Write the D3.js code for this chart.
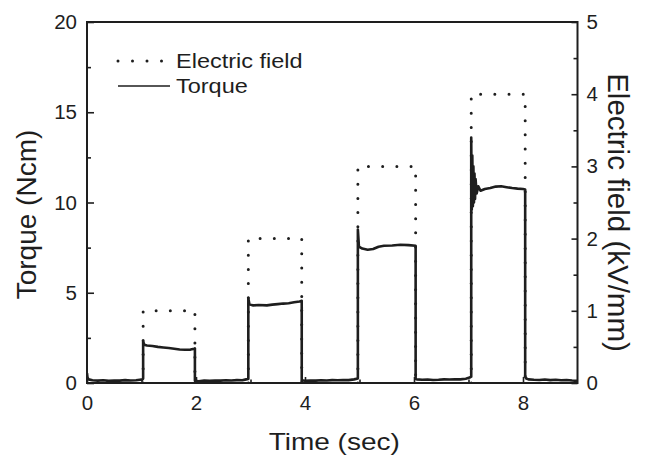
<!DOCTYPE html>
<html>
<head>
<meta charset="utf-8">
<script src="https://cdn.jsdelivr.net/npm/d3@7"></script>
<style>
  html, body { margin: 0; padding: 0; background: #fff; }
  svg { display: block; }
  text { font-family: "Liberation Sans", Arial, Helvetica, sans-serif; fill: #1e1e1e; }
</style>
</head>
<body>
<svg id="chart" width="645" height="457"></svg>
<script>
// Applied electric field (kV/mm): square pulses of increasing strength
const fieldTime = [0, 1.03, 1.03, 1.98, 1.98, 2.96, 2.96, 3.94, 3.94, 4.97, 4.97, 6.03, 6.03, 7.05, 7.05, 8.04, 8.04, 9];
const fieldKV   = [0, 0,    1,    1,    0,    0,    2,    2,    0,    0,    3,    3,    0,    0,    4,    4,    0,    0];

// Measured torque (Ncm) response
const torqueTime = [
  0.00, 0.01, 0.03, 0.10, 0.20, 0.30, 0.40, 0.50, 0.60, 0.70, 0.80, 0.90, 0.97, 1.02,
  1.03, 1.03, 1.05, 1.10, 1.20, 1.30, 1.40, 1.50, 1.60, 1.70, 1.80, 1.90, 1.97, 1.98,
  1.98, 2.05, 2.15, 2.25, 2.35, 2.45, 2.55, 2.65, 2.75, 2.85, 2.92, 2.96,
  2.96, 2.98, 3.05, 3.15, 3.30, 3.40, 3.50, 3.60, 3.70, 3.80, 3.90, 3.94,
  3.94, 4.00, 4.10, 4.20, 4.30, 4.40, 4.50, 4.60, 4.70, 4.80, 4.90, 4.97,
  4.97, 4.99, 5.05, 5.15, 5.25, 5.35, 5.45, 5.60, 5.75, 5.90, 6.03,
  6.03, 6.05, 6.15, 6.25, 6.35, 6.45, 6.55, 6.65, 6.75, 6.85, 6.95, 7.02, 7.05,
  7.05, 7.06, 7.07, 7.08, 7.09, 7.10, 7.11, 7.12, 7.13, 7.15, 7.18, 7.22, 7.30, 7.40, 7.50, 7.60, 7.70, 7.80, 7.90, 8.00, 8.04,
  8.04, 8.06, 8.10, 8.20, 8.30, 8.40, 8.50, 8.60, 8.70, 8.80, 8.90, 9.00
];
const torqueNcm = [
  0.55, 0.30, 0.20, 0.15, 0.13, 0.15, 0.12, 0.14, 0.13, 0.16, 0.14, 0.15, 0.18, 0.20,
  0.25, 2.30, 2.12, 2.08, 2.05, 2.00, 1.97, 1.94, 1.90, 1.86, 1.84, 1.85, 1.90, 1.92,
  0.12, 0.10, 0.13, 0.12, 0.14, 0.13, 0.15, 0.14, 0.16, 0.15, 0.20, 0.22,
  4.70, 4.36, 4.30, 4.32, 4.30, 4.34, 4.37, 4.40, 4.42, 4.47, 4.52, 4.55,
  0.15, 0.12, 0.14, 0.13, 0.15, 0.14, 0.16, 0.15, 0.17, 0.16, 0.20, 0.25,
  8.50, 7.55, 7.45, 7.38, 7.42, 7.55, 7.60, 7.62, 7.66, 7.64, 7.60,
  0.22, 0.20, 0.18, 0.19, 0.17, 0.18, 0.20, 0.19, 0.21, 0.20, 0.24, 0.30, 0.35,
  13.6, 9.60, 12.6, 9.80, 12.0, 10.0, 11.6, 10.2, 11.3, 10.5, 10.9, 10.65, 10.75, 10.80, 10.88, 10.90, 10.85, 10.80, 10.77, 10.75, 10.72,
  0.35, 0.25, 0.20, 0.18, 0.17, 0.19, 0.16, 0.18, 0.15, 0.17, 0.14, 0.12
];

const xTicks = [0, 2, 4, 6, 8];
const xMinorTicks = [1, 3, 5, 7];
const torqueTicks = [0, 5, 10, 15, 20];
const torqueMinorTicks = [2.5, 7.5, 12.5, 17.5];
const fieldTicks = [0, 1, 2, 3, 4, 5];
const fieldMinorTicks = [0.5, 1.5, 2.5, 3.5, 4.5];

const legendItems = ["Electric field", "Torque"];

const svg = d3.select("#chart");
const plot = { left: 87, right: 577.5, top: 22, bottom: 383 };

const x = d3.scaleLinear().domain([0, 9]).range([plot.left, plot.right]);
const yT = d3.scaleLinear().domain([0, 20]).range([plot.bottom, plot.top]);
const yE = d3.scaleLinear().domain([0, 5]).range([plot.bottom, plot.top]);

svg.append("defs").append("clipPath").attr("id", "plotClip")
  .append("rect")
  .attr("x", plot.left).attr("y", plot.top)
  .attr("width", plot.right - plot.left).attr("height", plot.bottom - plot.top);

const ink = "#1e1e1e";

// Electric field trace (dotted). Each pulse is stroked as its own path so the
// dot pattern restarts at every rising edge; the zero level lies on the axis.
const fieldPts = fieldTime.map((t, i) => [t, fieldKV[i]]);
const pulses = [];
fieldPts.forEach((p, i) => {
  if (i > 0 && p[1] > 0 && fieldPts[i - 1][1] === 0) pulses.push([fieldPts[i - 1]]);
  if (pulses.length && (p[1] > 0 || (i > 0 && fieldPts[i - 1][1] > 0))) {
    const cur = pulses[pulses.length - 1];
    if (cur[cur.length - 1] !== p) cur.push(p);
  }
});
const fieldLine = d3.line().x(d => x(d[0])).y(d => yE(d[1]));
svg.append("g").attr("clip-path", "url(#plotClip)")
  .selectAll("path").data(pulses).join("path")
  .attr("fill", "none")
  .attr("stroke", ink)
  .attr("stroke-width", 3)
  .attr("stroke-linecap", "round")
  .attr("stroke-dasharray", "0 14.2")
  .attr("d", fieldLine);

// Torque trace (solid)
const torquePts = torqueTime.map((t, i) => [t, torqueNcm[i]]);
svg.append("path")
  .datum(torquePts)
  .attr("clip-path", "url(#plotClip)")
  .attr("fill", "none")
  .attr("stroke", ink)
  .attr("stroke-width", 2.6)
  .attr("stroke-linejoin", "round")
  .attr("d", d3.line().x(d => x(d[0])).y(d => yT(d[1])));

// Axes with inward ticks
function styleAxis(g) {
  g.select(".domain").remove();
  g.selectAll("line").attr("stroke", ink).attr("stroke-width", 1.6);
  g.selectAll("text").attr("font-size", 20.5).attr("fill", ink)
    .attr("font-family", "Liberation Sans, Arial, sans-serif");
}

svg.append("g").attr("transform", `translate(0,${plot.bottom})`)
  .call(d3.axisBottom(x).tickValues(xTicks).tickSize(-6).tickPadding(12).tickFormat(d3.format("d")))
  .call(styleAxis);
svg.append("g").attr("transform", `translate(0,${plot.bottom})`)
  .call(d3.axisBottom(x).tickValues(xMinorTicks).tickSize(-3.5).tickFormat(""))
  .call(styleAxis);

svg.append("g").attr("transform", `translate(${plot.left},0)`)
  .call(d3.axisLeft(yT).tickValues(torqueTicks).tickSize(-7).tickPadding(10).tickFormat(d3.format("d")))
  .call(styleAxis);
svg.append("g").attr("transform", `translate(${plot.left},0)`)
  .call(d3.axisLeft(yT).tickValues(torqueMinorTicks).tickSize(-4).tickFormat(""))
  .call(styleAxis);

svg.append("g").attr("transform", `translate(${plot.right},0)`)
  .call(d3.axisRight(yE).tickValues(fieldTicks).tickSize(-6).tickPadding(9).tickFormat(d3.format("d")))
  .call(styleAxis);
svg.append("g").attr("transform", `translate(${plot.right},0)`)
  .call(d3.axisRight(yE).tickValues(fieldMinorTicks).tickSize(-4).tickFormat(""))
  .call(styleAxis);

// Frame
svg.append("rect")
  .attr("x", plot.left).attr("y", plot.top)
  .attr("width", plot.right - plot.left).attr("height", plot.bottom - plot.top)
  .attr("fill", "none").attr("stroke", ink).attr("stroke-width", 2);

// Axis titles
svg.append("text")
  .attr("transform", `translate(${(plot.left + plot.right) / 2 + 2},450) scale(1,0.87)`)
  .attr("text-anchor", "middle").attr("font-size", 28)
  .text("Time (sec)");

svg.append("text")
  .attr("transform", `translate(36,${(plot.top + plot.bottom) / 2 + 12}) rotate(-90)`)
  .attr("text-anchor", "middle").attr("font-size", 28)
  .text("Torque (Ncm)");

svg.append("text")
  .attr("transform", `translate(608,${(plot.top + plot.bottom) / 2 + 10}) rotate(90)`)
  .attr("text-anchor", "middle").attr("font-size", 29.5)
  .text("Electric field (kV/mm)");

// Legend
const legend = svg.append("g");
const legendRows = [61, 86];
legend.append("line")
  .attr("x1", 118).attr("x2", 170).attr("y1", legendRows[0]).attr("y2", legendRows[0])
  .attr("stroke", ink).attr("stroke-width", 3)
  .attr("stroke-linecap", "round").attr("stroke-dasharray", "0 14.5");
legend.append("line")
  .attr("x1", 118).attr("x2", 170).attr("y1", legendRows[1]).attr("y2", legendRows[1])
  .attr("stroke", ink).attr("stroke-width", 1.6);
legendItems.forEach((label, i) => {
  legend.append("text")
    .attr("transform", `translate(176,${legendRows[i] + 7}) scale(1,0.83)`)
    .attr("font-size", 23.5)
    .text(label);
});
</script>
</body>
</html>
